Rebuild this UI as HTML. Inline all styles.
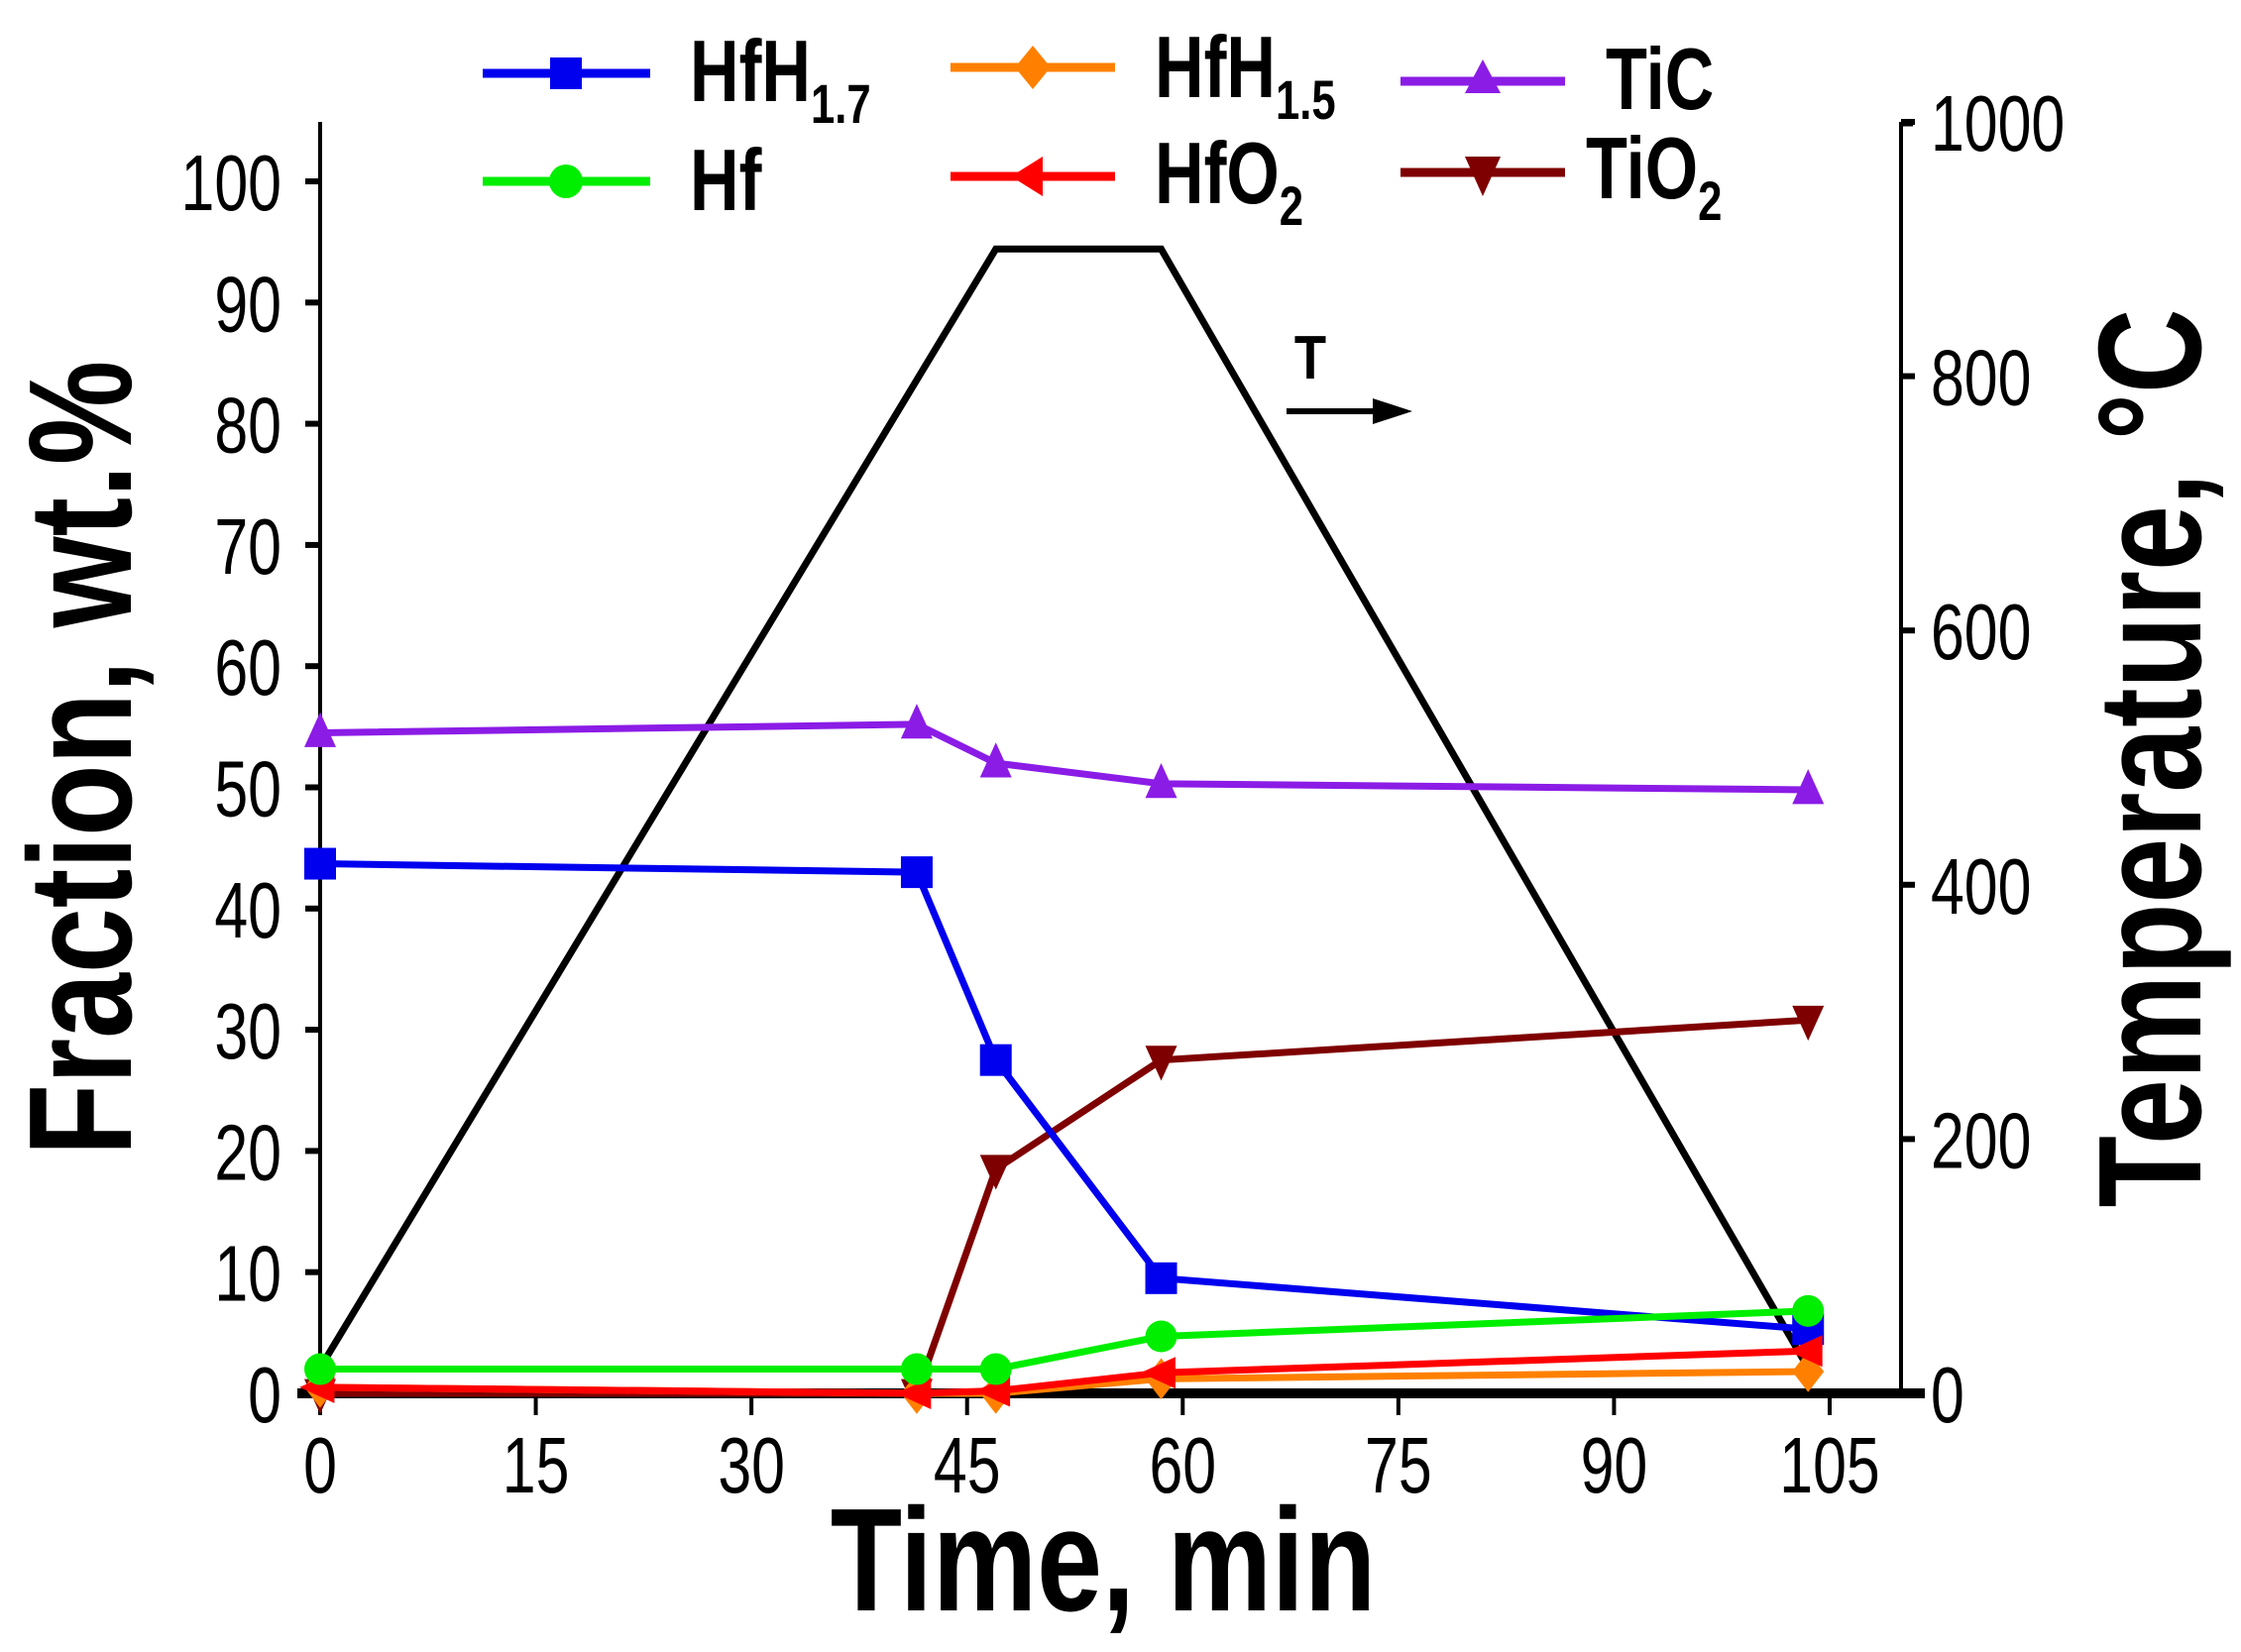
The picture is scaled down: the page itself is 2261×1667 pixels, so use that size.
<!DOCTYPE html>
<html><head><meta charset="utf-8"><style>
html,body{margin:0;padding:0;background:#fff;}
svg{display:block;font-family:"Liberation Sans",Arial,sans-serif;}
</style></head><body>
<svg id="chart" width="2261" height="1667" viewBox="0 0 2261 1667"></svg>
<script>
const times = [0, 41.5, 47, 58.5, 103.5];
const hfh17 = [43.7, 43, 27.5, 9.5, 5.3];
const hf = [2, 2, 2, 4.7, 6.8];
const hfh15 = [0.5, 0, 0, 1.2, 1.8];
const hfo2 = [0.5, 0, 0.2, 1.7, 3.5];
const tic = [54.5, 55.2, 52, 50.3, 49.8];
const tio2 = [0, 0, 18.5, 27.5, 30.8];
const tempTimes = [0, 47, 58.5, 103.5];
const tempValues = [20, 900, 900, 20];
const xTicks = [0, 15, 30, 45, 60, 75, 90, 105];
const yTicks = [0, 10, 20, 30, 40, 50, 60, 70, 80, 90, 100];
const y2Ticks = [0, 200, 400, 600, 800, 1000];

const NS = "http://www.w3.org/2000/svg";
const svg = document.getElementById('chart');
const X = t => 323 + t * (1846 - 323) / 105;
const Y = v => 1406 - v * (1406 - 183) / 100;
const Y2 = v => 1406 - v * (1406 - 123) / 1000;
function mk(tag, attrs, parent) {
  const e = document.createElementNS(NS, tag);
  for (const k in attrs) e.setAttribute(k, attrs[k]);
  (parent || svg).appendChild(e);
  return e;
}
function label(x, y, txt, anchor, parent) {
  const tx = mk('text', {x: 0, y: 0, 'font-size': 80, 'text-anchor': anchor, transform: `translate(${x},${y}) scale(0.76,1)`}, parent);
  tx.textContent = txt;
  return tx;
}
function marker(shape, cx, cy, color, g) {
  const s = 16;
  let el;
  if (shape === 'square') el = mk('rect', {x: cx - s, y: cy - s, width: 2 * s, height: 2 * s, fill: color}, g);
  else if (shape === 'circle') el = mk('circle', {cx: cx, cy: cy, r: s, fill: color}, g);
  else if (shape === 'diamond') el = mk('polygon', {points: `${cx},${cy - s * 1.3} ${cx + s},${cy} ${cx},${cy + s * 1.3} ${cx - s},${cy}`, fill: color}, g);
  else if (shape === 'up') el = mk('polygon', {points: `${cx},${cy - s * 1.3} ${cx + s},${cy + s * 0.9} ${cx - s},${cy + s * 0.9}`, fill: color}, g);
  else if (shape === 'down') el = mk('polygon', {points: `${cx},${cy + s * 1.3} ${cx + s},${cy - s * 0.9} ${cx - s},${cy - s * 0.9}`, fill: color}, g);
  else if (shape === 'left') el = mk('polygon', {points: `${cx - s * 1.3},${cy} ${cx + s * 0.9},${cy - s} ${cx + s * 0.9},${cy + s}`, fill: color}, g);
  
  
  return el;
}

const axes = mk('g', {});


mk('line', {x1: 323, y1: 123, x2: 323, y2: 1406, stroke: '#000', 'stroke-width': 4}, axes);
mk('line', {x1: 1918, y1: 123, x2: 1918, y2: 1406, stroke: '#000', 'stroke-width': 4}, axes);
mk('line', {x1: 300, y1: 1406, x2: 1942, y2: 1406, stroke: '#000', 'stroke-width': 10}, axes);
mk('line', {x1: 1918, y1: 125, x2: 1930, y2: 125, stroke: '#000', 'stroke-width': 5}, axes);

xTicks.forEach(t => {
  mk('line', {x1: X(t), y1: 1406, x2: X(t), y2: 1428, stroke: '#000', 'stroke-width': 4}, axes);
  const tx = label(X(t), 1506, t, 'middle', axes);
  
  
});
yTicks.forEach(v => {
  mk('line', {x1: 308, y1: Y(v), x2: 323, y2: Y(v), stroke: '#000', 'stroke-width': 6}, axes);
  const tx = label(284, Y(v) + 29, v, 'end', axes);
  
  
});
y2Ticks.forEach(v => {
  mk('line', {x1: 1918, y1: Y2(v), x2: 1932, y2: Y2(v), stroke: '#000', 'stroke-width': 6}, axes);
  const tx = label(1948, Y2(v) + 29, v, 'start', axes);
  
  
});

const tpts = tempTimes.map((t, i) => X(t) + ',' + Y2(tempValues[i])).join(' ');
const tl = mk('polyline', {points: tpts, fill: 'none', stroke: '#000', 'stroke-width': 7});



const series = [
  {name: 'tic', vals: tic, color: '#8b1ce6', shape: 'up'},
  {name: 'tio2', vals: tio2, color: '#7f0000', shape: 'down'},
  {name: 'hfh1.7', vals: hfh17, color: '#0000ee', shape: 'square'},
  {name: 'hfh1.5', vals: hfh15, color: '#ff8000', shape: 'diamond'},
  {name: 'hfo2', vals: hfo2, color: '#ff0000', shape: 'left'},
  {name: 'hf', vals: hf, color: '#00ee00', shape: 'circle'}
];
series.forEach(s => {
  const g = mk('g', {});
  
  
  mk('polyline', {points: times.map((t, i) => X(t) + ',' + Y(s.vals[i])).join(' '), fill: 'none', stroke: s.color, 'stroke-width': 7}, g);
  times.forEach((t, i) => marker(s.shape, X(t), Y(s.vals[i]), s.color, g));
});

const ag = mk('g', {});


const tt = mk('text', {x: 0, y: 0, 'font-size': 62, 'font-weight': 'bold', 'text-anchor': 'middle', transform: 'translate(1322,382) scale(0.85,1)'}, ag);
tt.textContent = 'T';
mk('line', {x1: 1298, y1: 415, x2: 1392, y2: 415, stroke: '#000', 'stroke-width': 6}, ag);
mk('polygon', {points: '1425,415 1385,402 1385,428', fill: '#000'}, ag);
</script>
<svg style="position:absolute;left:0;top:0" width="2261" height="1667">
  <g font-family="Liberation Sans, Arial, sans-serif" font-weight="bold" font-size="88">
    <g>
      <line x1="487" y1="74" x2="656" y2="74" stroke="#0000ee" stroke-width="9"/>
      <rect x="555" y="58" width="32" height="32" fill="#0000ee"/>
      <text transform="translate(696,102) scale(0.78,1)">HfH<tspan font-size="56" dy="22">1.7</tspan></text>
    </g>
    <g>
      <line x1="959" y1="68" x2="1125" y2="68" stroke="#ff8000" stroke-width="9"/>
      <polygon points="1042,46 1060,68 1042,90 1024,68" fill="#ff8000"/>
      <text transform="translate(1165,98) scale(0.78,1)">HfH<tspan font-size="56" dy="22">1.5</tspan></text>
    </g>
    <g>
      <line x1="1413" y1="82" x2="1579" y2="82" stroke="#8b1ce6" stroke-width="9"/>
      <polygon points="1496,60 1514,94 1478,94" fill="#8b1ce6"/>
      <text transform="translate(1620,110) scale(0.78,1)">TiC</text>
    </g>
    <g>
      <line x1="487" y1="183" x2="656" y2="183" stroke="#00ee00" stroke-width="9"/>
      <circle cx="571" cy="183" r="17" fill="#00ee00"/>
      <text transform="translate(696,212) scale(0.78,1)">Hf</text>
    </g>
    <g>
      <line x1="959" y1="178" x2="1125" y2="178" stroke="#ff0000" stroke-width="9"/>
      <polygon points="1020,178 1052,158 1052,198" fill="#ff0000"/>
      <text transform="translate(1165,205) scale(0.78,1)">HfO<tspan font-size="56" dy="22">2</tspan></text>
    </g>
    <g>
      <line x1="1413" y1="174" x2="1579" y2="174" stroke="#7f0000" stroke-width="9"/>
      <polygon points="1478,158 1514,158 1496,198" fill="#7f0000"/>
      <text transform="translate(1600,200) scale(0.78,1)">TiO<tspan font-size="56" dy="22">2</tspan></text>
    </g>
  </g>
  <text transform="translate(1113,1625) scale(0.8,1)" font-family="Liberation Sans, Arial, sans-serif" font-weight="bold" font-size="148" text-anchor="middle">Time, min</text>
  <text transform="translate(132,765) rotate(-90) scale(0.8,1)" font-family="Liberation Sans, Arial, sans-serif" font-weight="bold" font-size="148" text-anchor="middle">Fraction, wt.%</text>
  <text transform="translate(2220,765) rotate(-90) scale(0.8,1)" font-family="Liberation Sans, Arial, sans-serif" font-weight="bold" font-size="148" text-anchor="middle">Temperature, °C</text>
</svg>
</body></html>
